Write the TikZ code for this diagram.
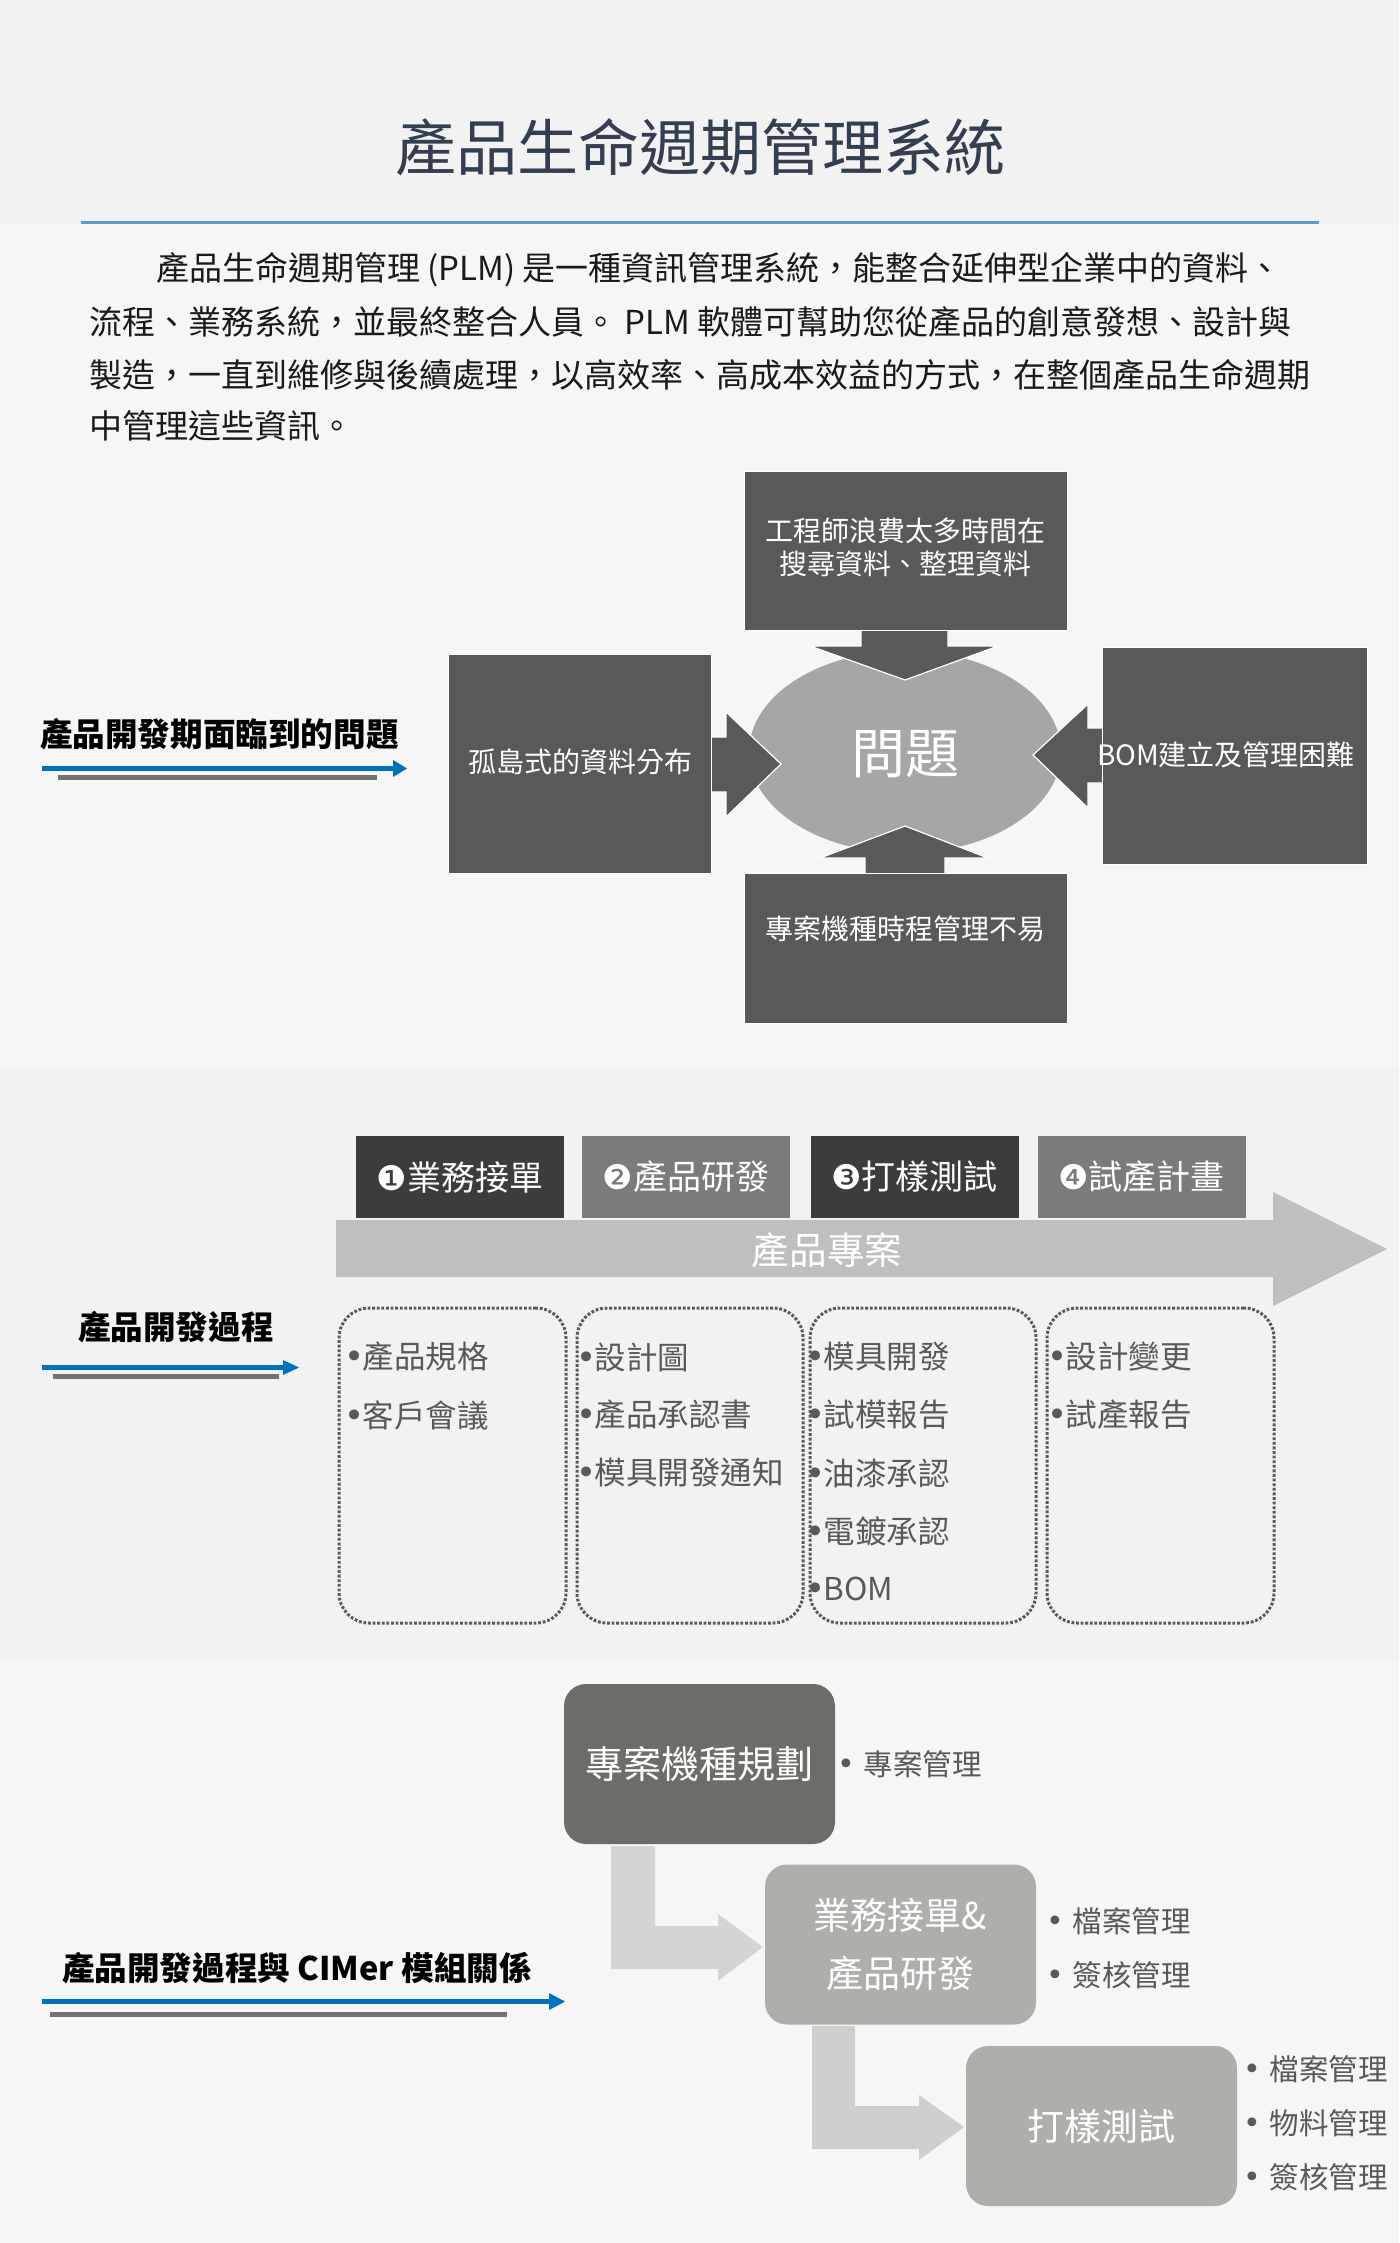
\documentclass[tikz,border=0pt]{standalone}
\usepackage{fontspec}
\setmainfont{Noto Sans CJK TC}
\newfontfamily\djv{DejaVu Sans}
\definecolor{bgA}{HTML}{F2F2F2}
\definecolor{bgB}{HTML}{F6F6F6}
\definecolor{titlec}{HTML}{333F50}
\definecolor{rulec}{HTML}{5B9BD5}
\definecolor{boxg}{HTML}{595959}
\definecolor{ellg}{HTML}{A6A6A6}
\definecolor{bluea}{HTML}{0070C0}
\definecolor{grayb}{HTML}{767171}
\definecolor{stepd}{HTML}{3C3C3C}
\definecolor{stepl}{HTML}{7B7B7B}
\definecolor{bigarr}{HTML}{BFBFBF}
\definecolor{itemc}{HTML}{595959}
\definecolor{cA}{HTML}{6D6D67}
\definecolor{cB}{HTML}{AEAEAA}
\definecolor{arrA}{HTML}{D4D4D4}
\definecolor{arrB}{HTML}{CFCFCD}
\definecolor{parac}{HTML}{1A1A1A}
\newcommand\itbul{{\djv\fontsize{17}{17}\selectfont •}\hspace{-0.65pt}}
\newcommand\crbul{\raisebox{0.35pt}{\djv\fontsize{15}{15}\selectfont •}\hspace{4.5pt}}
\tikzset{
  txt/.style={inner sep=0pt, outer sep=0pt},
  pbox/.style={fill=boxg, draw=white, line width=0.5pt, inner sep=0pt},
  parr/.style={fill=boxg, draw=white, line width=0.6pt},
  ptext/.style={txt, text=white, font=\fontsize{14}{16.5}\selectfont, align=center},
  lbl/.style={txt, anchor=west, font=\fontsize{16.3}{19}\selectfont\bfseries, text=black},
  stepbox/.style={inner sep=0pt, minimum width=104pt, minimum height=41pt, text=white, font=\fontsize{17}{20}\selectfont},
  dotbox/.style={draw=itemc, line width=1.5pt, dash pattern=on 1.4pt off 0.9pt, rounded corners=15pt, inner sep=0pt, minimum height=157.5pt},
  itm/.style={txt, anchor=west, text=itemc, font=\fontsize{15.75}{18}\selectfont},
  cbox/.style={rounded corners=11pt, inner sep=0pt, minimum width=135.5pt, minimum height=80pt, text=white, align=center},
  citm/.style={txt, anchor=west, text=itemc, font=\fontsize{14.75}{17}\selectfont},
  paraline/.style={txt, anchor=west, text=parac, font=\fontsize{16.5}{20}\selectfont},
}
\begin{document}
\begin{tikzpicture}[x=0.5pt,y=-0.5pt]
\useasboundingbox (0,0) rectangle (1399,2243);
% backgrounds
\fill[bgA] (0,0) rectangle (1399,224);
\fill[bgB] (0,224) rectangle (1399,1066);
\fill[bgA] (0,1066) rectangle (1399,1661);
\fill[bgB] (0,1661) rectangle (1399,2243);

% title
\node[txt, text=titlec, font=\fontsize{30.5}{36}\selectfont] (title) at (700,147) {產品生命週期管理系統};
\fill[rulec] (81,220.5) rectangle (1319,223.5);

% paragraph
\node[paraline] (p1) at (156,270) {產品生命週期管理 (PLM) 是一種資訊管理系統，能整合延伸型企業中的資料、};
\node[paraline] (p2) at (89,322) {流程、業務系統，並最終整合人員。 PLM 軟體可幫助您從產品的創意發想、設計與};
\node[paraline] (p3) at (89,375) {製造，一直到維修與後續處理，以高效率、高成本效益的方式，在整個產品生命週期};
\node[paraline] (p4) at (89,426) {中管理這些資訊。};

% ---------- section 1 ----------
\node[lbl] (lbl1) at (40,734) {產品開發期面臨到的問題};
\fill[bluea] (42,766) rectangle (394,771);
\fill[bluea] (393,760) -- (407,768.5) -- (393,777) -- cycle;
\fill[grayb] (58,775) rectangle (377,780);

\fill[ellg] (905,752) ellipse [x radius=78pt, y radius=50.5pt];
\node[txt, text=white, font=\fontsize{27}{30}\selectfont] (center) at (905,754) {問題};

% arrows
\path[parr] (861,626) -- (948,626) -- (948,646) -- (998,646) -- (905,680) -- (810,646) -- (861,646) -- cycle;
\path[parr] (705,737) -- (726,737) -- (726,712) -- (781,764) -- (726,817) -- (726,792) -- (705,792) -- cycle;
\path[parr] (1108,728) -- (1088,728) -- (1088,704) -- (1033,755) -- (1088,808) -- (1088,783) -- (1108,783) -- cycle;
\path[parr] (865,878) -- (865,858) -- (820,858) -- (905,826) -- (988,858) -- (945,858) -- (945,878) -- cycle;

% boxes
\node[pbox, minimum width=161.5pt, minimum height=79.5pt] (ptop) at (905.5,550.5) {};
\node[pbox, minimum width=131.5pt, minimum height=109.5pt] (pleft) at (579.5,763.5) {};
\node[pbox, minimum width=132.5pt, minimum height=108.5pt] (pright) at (1234.5,755.5) {};
\node[pbox, minimum width=161.5pt, minimum height=75pt] (pbot) at (905.5,948) {};

\node[ptext] (ttop) at (905,547.5) {工程師浪費太多時間在\\搜尋資料、整理資料};
\node[ptext] (tleft) at (580,762) {孤島式的資料分布};
\node[ptext] (tright) at (1226,755) {BOM建立及管理困難};
\node[ptext] (tbot) at (905,929) {專案機種時程管理不易};

% ---------- section 2 ----------
\node[lbl] (lbl2) at (78,1327) {產品開發過程};
\fill[bluea] (42,1365) rectangle (284,1370);
\fill[bluea] (283,1360) -- (299,1367.5) -- (283,1375) -- cycle;
\fill[grayb] (53,1374) rectangle (279,1379);

\fill[bigarr] (336,1220) -- (1273,1220) -- (1273,1192) -- (1387,1249) -- (1273,1306) -- (1273,1277) -- (336,1277) -- cycle;
\node[txt, text=white, font=\fontsize{18.8}{22}\selectfont] (proj) at (827,1250) {產品專案};

\node[stepbox, fill=stepd] (s1) at (460,1177) {{\djv ❶}業務接單};
\node[stepbox, fill=stepl] (s2) at (686,1177) {{\djv ❷}產品研發};
\node[stepbox, fill=stepd] (s3) at (914.5,1177) {{\djv ❸}打樣測試};
\node[stepbox, fill=stepl] (s4) at (1141.5,1177) {{\djv ❹}試產計畫};

\node[dotbox, minimum width=113.5pt] (d1) at (452.5,1465.5) {};
\node[dotbox, minimum width=113pt] (d2) at (690,1465.5) {};
\node[dotbox, minimum width=113pt] (d3) at (923,1465.5) {};
\node[dotbox, minimum width=113.5pt] (d4) at (1160.5,1465.5) {};

\node[itm] (i11) at (344,1357) {\itbul 產品規格};
\node[itm] (i12) at (344,1415) {\itbul 客戶會議};
\node[itm] (i21) at (576,1357) {\itbul 設計圖};
\node[itm] (i22) at (576,1415) {\itbul 產品承認書};
\node[itm] (i23) at (576,1473) {\itbul 模具開發通知};
\node[itm] (i31) at (805,1357) {\itbul 模具開發};
\node[itm] (i32) at (805,1415) {\itbul 試模報告};
\node[itm] (i33) at (805,1473) {\itbul 油漆承認};
\node[itm] (i34) at (805,1531) {\itbul 電鍍承認};
\node[itm] (i35) at (805,1589) {\itbul BOM};
\node[itm] (i41) at (1047,1357) {\itbul 設計變更};
\node[itm] (i42) at (1047,1415) {\itbul 試產報告};

% ---------- section 3 ----------
\node[lbl] (lbl3) at (62,1968) {產品開發過程與 CIMer 模組關係};
\fill[bluea] (42,1999) rectangle (550,2004);
\fill[bluea] (549,1993) -- (565,2001.5) -- (549,2010) -- cycle;
\fill[grayb] (50,2012) rectangle (507,2017);

\fill[arrA] (611,1846) -- (655,1846) -- (655,1926) -- (718,1926) -- (718,1914) -- (763,1947) -- (718,1981) -- (718,1969) -- (611,1969) -- cycle;
\fill[arrB] (812,2026) -- (855,2026) -- (855,2106) -- (919,2106) -- (919,2095) -- (964,2127) -- (919,2160) -- (919,2149) -- (812,2149) -- cycle;

\node[cbox, fill=cA, font=\fontsize{19}{22}\selectfont] (cA) at (699.5,1764) {專案機種規劃};
\node[cbox, fill=cB, font=\fontsize{18.5}{29}\selectfont] (cB) at (900.5,1944.5) {業務接單\&\\產品研發};
\node[cbox, fill=cB, font=\fontsize{18.5}{22}\selectfont] (cC) at (1101.5,2126) {打樣測試};

\node[citm] (a1) at (837,1764) {\crbul 專案管理};
\node[citm] (b1) at (1046,1921) {\crbul 檔案管理};
\node[citm] (b2) at (1046,1975) {\crbul 簽核管理};
\node[citm] (c1) at (1243,2069) {\crbul 檔案管理};
\node[citm] (c2) at (1243,2123) {\crbul 物料管理};
\node[citm] (c3) at (1243,2177) {\crbul 簽核管理};
\end{tikzpicture}
\end{document}
